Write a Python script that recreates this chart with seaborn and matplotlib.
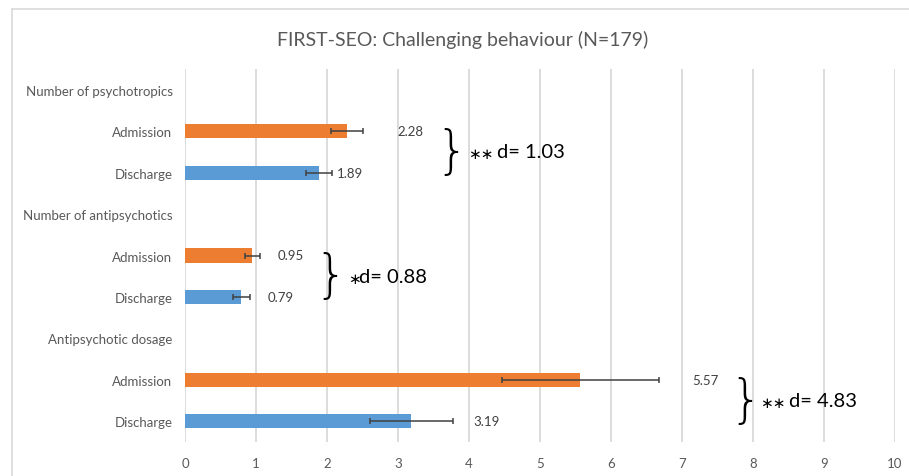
import pandas as pd
import matplotlib.pyplot as plt
import seaborn as sns
from matplotlib.lines import Line2D

# row order of the chart (headers have no bar)
row_keys = ["psy_head", "psy_adm", "psy_dis",
            "anti_head", "anti_adm", "anti_dis",
            "dose_head", "dose_adm", "dose_dis"]
row_labels = ["Number of psychotropics", "Admission", "Discharge",
              "Number of antipsychotics", "Admission", "Discharge",
              "Antipsychotic dosage", "Admission", "Discharge"]

bar_keys = ["psy_adm", "psy_dis", "anti_adm", "anti_dis", "dose_adm", "dose_dis"]
timepoints = ["Admission", "Discharge", "Admission", "Discharge", "Admission", "Discharge"]
means = [2.28, 1.89, 0.95, 0.79, 5.57, 3.19]
errors = [0.22, 0.18, 0.10, 0.12, 1.10, 0.59]

# effect sizes per measure
effect_labels = ["d= 1.03", "d= 0.88", "d= 4.83"]
stars = ["∗∗", "∗", "∗∗"]

# layout for annotations (data x)
value_label_x = [2.99, 2.14, 1.31, 1.17, 7.14, 4.06]
brace_x = [3.76, 2.05, 7.89]
star_x = [3.98, 2.29, 8.10]
effect_x = [4.39, 2.45, 8.51]

ORANGE = "#ED7D31"
BLUE = "#5B9BD5"
GREY_TXT = "#595959"


def build_frame():
    return pd.DataFrame({"row": bar_keys, "timepoint": timepoints,
                         "mean": means, "err": errors})


def create_visualization(df, output_image_path):
    sns.set_style("white")
    plt.rcParams["font.family"] = ["Lato", "DejaVu Sans"]

    fig = plt.figure(figsize=(9.09, 4.77), dpi=100)
    ax = fig.add_axes([185 / 909, 1 - 443 / 477, 710 / 909, 373 / 477])

    sns.barplot(data=df, x="mean", y="row", hue="timepoint", order=row_keys,
                palette={"Admission": ORANGE, "Discharge": BLUE},
                orient="h", dodge=False, width=0.34, errorbar=None,
                legend=False, ax=ax, saturation=1, linewidth=0)

    ypos = [row_keys.index(k) for k in df["row"]]
    ax.errorbar(df["mean"], ypos, xerr=df["err"], fmt="none",
                ecolor="#404040", elinewidth=1.1, capsize=2.5, capthick=1.1, zorder=3)

    for y, v, lx in zip(ypos, df["mean"], value_label_x):
        ax.text(lx, y, f"{v:.2f}", ha="left", va="center", fontsize=9.5, color="#404040")

    for i in range(3):
        yc = 3 * i + 1.5
        ax.text(brace_x[i], yc, "}", ha="center", va="center", fontsize=37,
                fontweight=200, color="black", family=["DejaVu Sans"])
        ax.text(star_x[i], yc + 0.05, stars[i], ha="left", va="center", fontsize=11,
                color="black", family=["DejaVu Sans"])
        ax.text(effect_x[i], yc, effect_labels[i], ha="left", va="center",
                fontsize=14.5, color="black")

    ax.set_xlim(0, 10)
    ax.set_ylim(8.5, -0.5)
    ax.set_xticks(range(0, 11))
    ax.set_yticks(range(len(row_keys)))
    ax.set_yticklabels(row_labels)
    ax.set_xlabel("")
    ax.set_ylabel("")
    ax.tick_params(axis="both", length=0, labelsize=9.5, labelcolor=GREY_TXT)
    ax.tick_params(axis="y", pad=9)
    ax.tick_params(axis="x", pad=11)
    ax.grid(axis="x", color="#D9D9D9", linewidth=1.3)
    ax.set_axisbelow(True)
    for s in ax.spines.values():
        s.set_visible(False)

    fig.text(463 / 909, 1 - 40 / 477, "FIRST-SEO: Challenging behaviour (N=179)",
             ha="center", va="center", fontsize=14, color=GREY_TXT)

    # outer chart frame (top and left edges)
    fig.add_artist(Line2D([12 / 909, 1], [1 - 10 / 477] * 2, transform=fig.transFigure,
                          color="#D9D9D9", linewidth=1.2))
    fig.add_artist(Line2D([12 / 909] * 2, [0, 1 - 10 / 477], transform=fig.transFigure,
                          color="#D9D9D9", linewidth=1.2))

    fig.savefig(output_image_path, dpi=100)


def main():
    create_visualization(build_frame(), "out.png")


if __name__ == "__main__":
    main()
